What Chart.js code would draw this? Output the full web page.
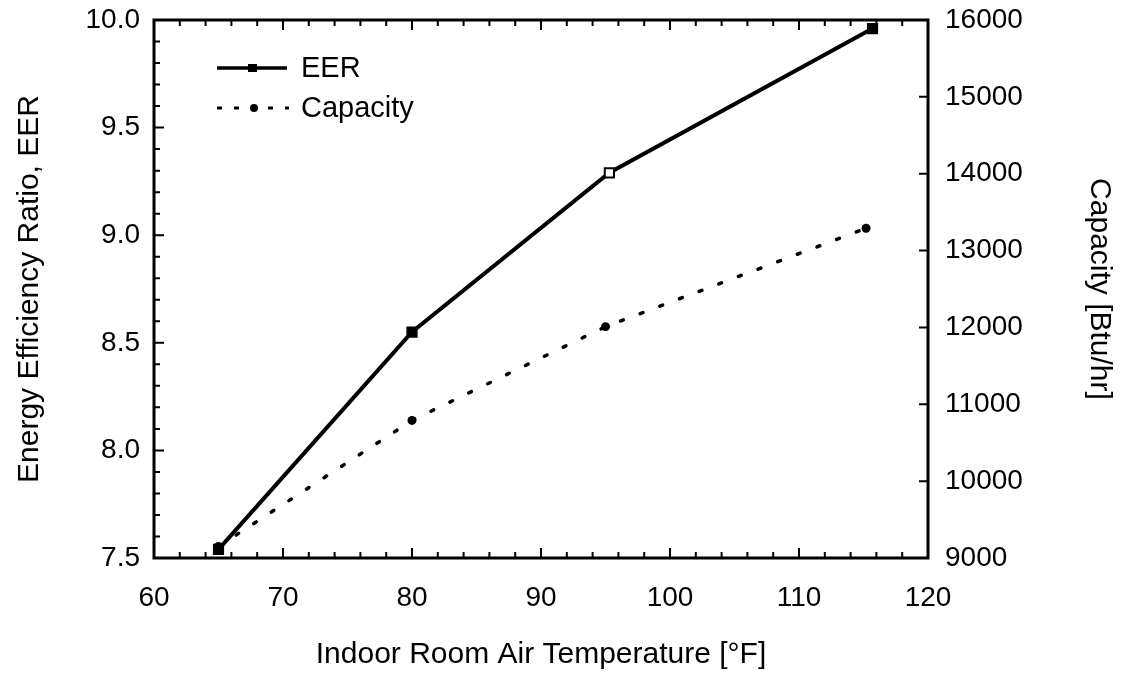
<!DOCTYPE html>
<html>
<head>
<meta charset="utf-8">
<script src="https://cdn.jsdelivr.net/npm/chart.js@4"></script>
<style>
    html, body { margin: 0; padding: 0; background: #fff; }
    #wrap { width: 1129px; height: 677px; position: relative; }
</style>
</head>
<body>
<div id="wrap"><canvas id="eerChart"></canvas></div>
<script>
    "use strict";

    // hodnoty odcitane z grafu
    const eerTemps = [65, 80, 95.3, 115.7];
    const eerValues = [7.54, 8.55, 9.29, 9.96];
    const capTemps = [65, 80, 95, 115.2];
    const capValues = [9150, 10790, 12010, 13290];

    const xTicks = [60, 70, 80, 90, 100, 110, 120];
    const eerTicks = [7.5, 8.0, 8.5, 9.0, 9.5, 10.0];
    const capTicks = [9000, 10000, 11000, 12000, 13000, 14000, 15000, 16000];

    const FONT = "'Liberation Sans', Arial, Helvetica, sans-serif";

    function toPoints(xs, ys) {
        return xs.map(function (x, i) { return {x: x, y: ys[i]}; });
    }

    // ramik + tick-y smerom dnu (Chart.js to sam nevie)
    const framePlugin = {
        id: 'frame',
        afterDraw: function (chart) {
            const ctx = chart.ctx;
            const a = chart.chartArea;
            const xs = chart.scales.x, yl = chart.scales.y, yr = chart.scales.y1;
            ctx.save();
            ctx.strokeStyle = '#000';
            ctx.lineWidth = 3;
            ctx.strokeRect(a.left, a.top, a.right - a.left, a.bottom - a.top);

            ctx.lineWidth = 2;
            ctx.beginPath();
            for (let v = xTicks[0]; v <= xTicks[xTicks.length - 1]; v += 2) {
                const px = xs.getPixelForValue(v);
                const len = (v % 10 === 0) ? 10 : 6;
                ctx.moveTo(px, a.bottom); ctx.lineTo(px, a.bottom - len);
                ctx.moveTo(px, a.top); ctx.lineTo(px, a.top + len);
            }
            for (let k = 0; k <= 25; k++) {
                const v = eerTicks[0] + k * 0.1;
                const py = yl.getPixelForValue(v);
                const len = (k % 5 === 0) ? 10 : 6;
                ctx.moveTo(a.left, py); ctx.lineTo(a.left + len, py);
            }
            capTicks.forEach(function (v) {
                const py = yr.getPixelForValue(v);
                ctx.moveTo(a.right, py); ctx.lineTo(a.right - 9, py);
            });
            ctx.stroke();

            // legenda
            const lx = a.left + 63, ly1 = a.top + 48, ly2 = a.top + 88;
            ctx.lineWidth = 3.5;
            ctx.beginPath();
            ctx.moveTo(lx, ly1); ctx.lineTo(lx + 70, ly1);
            ctx.stroke();
            ctx.fillStyle = '#000';
            ctx.fillRect(lx + 31, ly1 - 4, 9, 8);

            ctx.lineWidth = 3;
            ctx.setLineDash([5, 12]);
            ctx.beginPath();
            ctx.moveTo(lx, ly2); ctx.lineTo(lx + 72, ly2);
            ctx.stroke();
            ctx.setLineDash([]);
            ctx.beginPath();
            ctx.arc(lx + 37, ly2, 4, 0, Math.PI * 2);
            ctx.fill();

            ctx.font = '29px ' + FONT;
            ctx.textBaseline = 'middle';
            ctx.textAlign = 'left';
            ctx.fillText('EER', lx + 84, ly1 + 1);
            ctx.fillText('Capacity', lx + 84, ly2 + 1);
            ctx.restore();
        }
    };

    function noPadY(s) { s.paddingTop = 0; s.paddingBottom = 0; }

    const ctx = document.getElementById("eerChart");
    const myChart = new Chart(ctx, {
        type: 'line',
        data: {
            datasets: [{
                label: 'EER',
                data: toPoints(eerTemps, eerValues),
                yAxisID: 'y',
                borderColor: '#000',
                borderWidth: 4,
                pointStyle: 'rect',
                pointRadius: 6.5,
                pointBorderWidth: 2,
                pointBorderColor: '#000',
                pointBackgroundColor: ['#000', '#000', '#fff', '#000'],
                tension: 0
            }, {
                label: 'Capacity',
                data: toPoints(capTemps, capValues),
                yAxisID: 'y1',
                borderColor: '#000',
                borderWidth: 3.5,
                borderDash: [3, 18],
                borderCapStyle: 'round',
                pointStyle: 'circle',
                pointRadius: 4.5,
                pointBorderWidth: 0,
                pointBackgroundColor: '#000',
                tension: 0
            }]
        },
        options: {
            responsive: true,
            maintainAspectRatio: false,
            animation: false,
            events: [],
            layout: {padding: {top: 20, left: 0, right: 0, bottom: 0}},
            plugins: {
                legend: {display: false},
                tooltip: {enabled: false}
            },
            scales: {
                x: {
                    type: 'linear',
                    position: 'bottom',
                    min: xTicks[0],
                    max: xTicks[xTicks.length - 1],
                    afterBuildTicks: function (s) { s.ticks = xTicks.map(function (v) { return {value: v}; }); },
                    grid: {display: false, drawTicks: false},
                    border: {display: false},
                    ticks: {color: '#000', padding: 23, font: {family: FONT, size: 28}, maxRotation: 0},
                    title: {
                        display: true,
                        text: 'Indoor Room Air Temperature [°F]',
                        color: '#000',
                        font: {family: FONT, size: 30},
                        padding: {top: 0, bottom: 4}
                    },
                    afterFit: function (s) { s.height = 119; s.paddingLeft = 0; s.paddingRight = 0; }
                },
                y: {
                    position: 'left',
                    min: eerTicks[0],
                    max: eerTicks[eerTicks.length - 1],
                    afterBuildTicks: function (s) { s.ticks = eerTicks.map(function (v) { return {value: v}; }); },
                    grid: {display: false, drawTicks: false},
                    border: {display: false},
                    ticks: {
                        color: '#000', padding: 14, font: {family: FONT, size: 28},
                        callback: function (v) { return Number(v).toFixed(1); }
                    },
                    title: {
                        display: true,
                        text: 'Energy Efficiency Ratio, EER',
                        color: '#000',
                        font: {family: FONT, size: 30},
                        padding: {top: 12, bottom: 0}
                    },
                    afterFit: function (s) { s.width = 154; noPadY(s); }
                },
                y1: {
                    position: 'right',
                    min: capTicks[0],
                    max: capTicks[capTicks.length - 1],
                    afterBuildTicks: function (s) { s.ticks = capTicks.map(function (v) { return {value: v}; }); },
                    grid: {display: false, drawTicks: false},
                    border: {display: false},
                    ticks: {
                        color: '#000', padding: 17, font: {family: FONT, size: 28},
                        callback: function (v) { return String(v); }
                    },
                    title: {
                        display: true,
                        text: 'Capacity [Btu/hr]',
                        color: '#000',
                        font: {family: FONT, size: 30},
                        padding: {top: 12, bottom: 0}
                    },
                    afterFit: function (s) { s.width = 201; noPadY(s); }
                }
            }
        },
        plugins: [framePlugin]
    });
</script>
</body>
</html>
